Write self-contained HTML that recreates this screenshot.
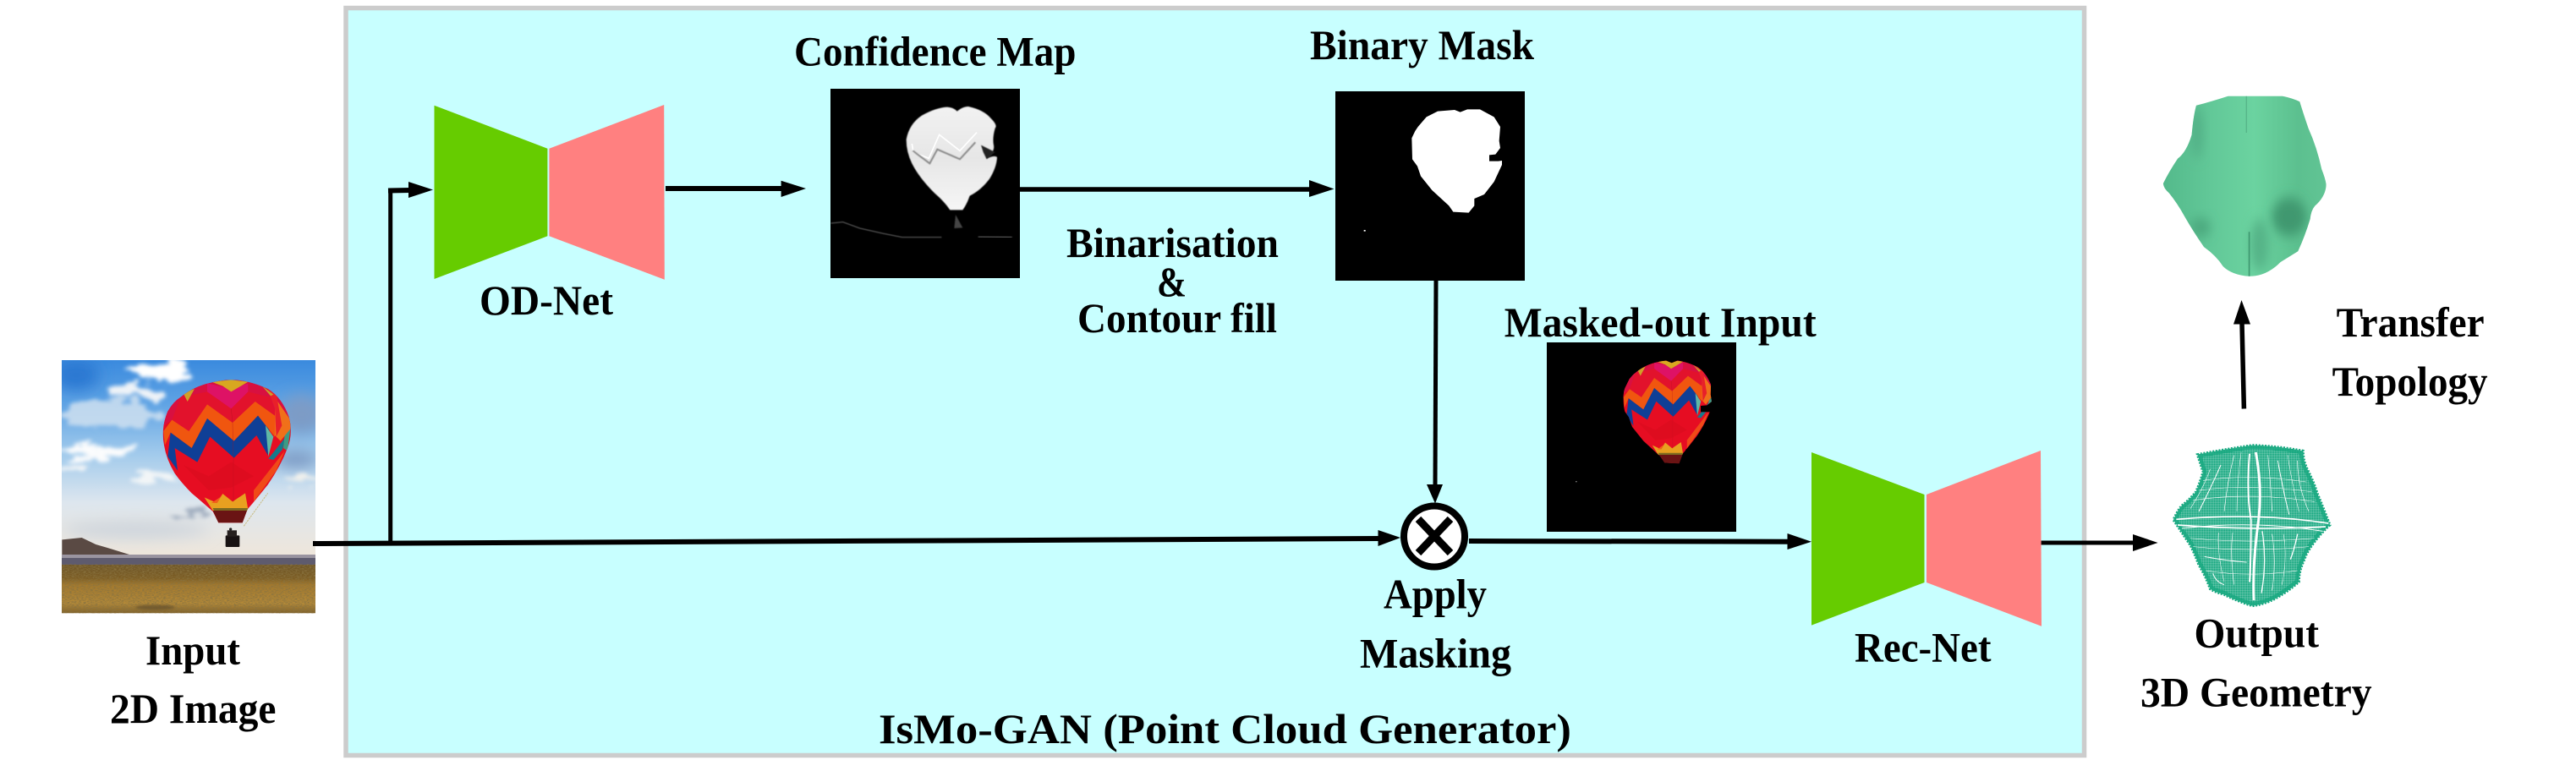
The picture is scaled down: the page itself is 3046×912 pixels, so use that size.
<!DOCTYPE html>
<html><head><meta charset="utf-8"><title>IsMo-GAN</title>
<style>html,body{margin:0;padding:0;background:#fff}svg{display:block}
text{font-family:"Liberation Serif",serif;font-weight:bold;font-size:50px;fill:#000}</style></head>
<body>
<svg width="3046" height="912" viewBox="0 0 3046 912" xmlns="http://www.w3.org/2000/svg">
<defs>
<linearGradient id="sky" x1="0" y1="0" x2="0" y2="1">
<stop offset="0" stop-color="#3a8ade"/><stop offset=".22" stop-color="#5fa3e4"/><stop offset=".48" stop-color="#a3cbec"/><stop offset=".72" stop-color="#dde6ee"/><stop offset="1" stop-color="#efe6da"/></linearGradient>
<linearGradient id="field" x1="0" y1="0" x2="0" y2="1">
<stop offset="0" stop-color="#6d5528"/><stop offset=".28" stop-color="#7c5c22"/><stop offset=".42" stop-color="#a67a2c"/><stop offset=".8" stop-color="#b58a38"/><stop offset="1" stop-color="#7e5f28"/></linearGradient>
<linearGradient id="mesh" x1="0" y1="0" x2="1" y2="0">
<stop offset="0" stop-color="#52b88a"/><stop offset=".3" stop-color="#62c898"/><stop offset=".55" stop-color="#6bd3a0"/><stop offset=".8" stop-color="#5cc08f"/><stop offset="1" stop-color="#62c596"/></linearGradient>
<linearGradient id="conf" x1="0" y1="0" x2="0" y2="1">
<stop offset="0" stop-color="#f2f2f2"/><stop offset=".5" stop-color="#e6e6e6"/><stop offset="1" stop-color="#f6f6f6"/></linearGradient>
<filter id="b8" x="-50%" y="-50%" width="200%" height="200%"><feGaussianBlur stdDeviation="8"/></filter>
<filter id="b14" x="-50%" y="-50%" width="200%" height="200%"><feGaussianBlur stdDeviation="14"/></filter>
<filter id="wisp" x="-30%" y="-30%" width="160%" height="160%"><feTurbulence type="fractalNoise" baseFrequency=".012 .03" numOctaves="3" seed="7" result="n"/><feDisplacementMap in="SourceGraphic" in2="n" scale="90" xChannelSelector="R" yChannelSelector="G"/><feGaussianBlur stdDeviation="7"/></filter>
<filter id="b26" x="-60%" y="-80%" width="220%" height="260%"><feGaussianBlur stdDeviation="26"/></filter>
<filter id="b1"><feGaussianBlur stdDeviation="1.5"/></filter>
<filter id="b4" x="-30%" y="-30%" width="160%" height="160%"><feGaussianBlur stdDeviation="4"/></filter>
<filter id="noise" x="0" y="0" width="100%" height="100%"><feTurbulence type="fractalNoise" baseFrequency=".12 .5" numOctaves="2" seed="4"/><feColorMatrix values="0 0 0 0 .25  0 0 0 0 .17  0 0 0 0 .05  0 0 0 3 -1.2"/></filter>
<clipPath id="photoClip"><rect x="39" y="18" width="900" height="898"/></clipPath>
<clipPath id="ballClip"><path d="M640,88 Q700,88 770,120 Q820,150 845,220 Q860,280 840,330 Q815,395 770,460 Q730,510 700,545 L695,555 L680,595 L595,595 L575,555 Q530,515 500,490 Q465,455 440,420 Q410,370 402,320 Q390,260 415,200 Q435,165 460,150 Q510,110 570,98 Q610,88 640,88 Z"/></clipPath>
<clipPath id="maskClip"><polygon points="268,190 290,145 320,110 360,85 420,80 440,88 465,78 510,78 560,105 580,145 578,200 582,225 565,238 543,240 543,262 575,262 588,260 588,275 560,335 525,380 490,395 485,420 470,445 415,442 400,420 340,365 300,315 288,280 270,255"/></clipPath>
<path id="cloudPath" d="M145,68 Q240,50 340,35 Q430,38 520,55 Q520,90 535,120 Q560,170 570,205 Q595,265 615,318 Q585,345 555,385 Q530,420 525,440 Q505,480 505,520 Q465,555 420,580 Q380,600 340,605 Q290,590 240,565 Q205,555 190,545 Q175,500 150,460 Q135,420 120,390 Q90,345 60,300 Q80,255 95,245 Q120,225 140,200 Q155,165 165,130 Z"/>
<clipPath id="cloudClip"><use href="#cloudPath"/></clipPath>
<clipPath id="meshClip"><path d="M478,127 Q520,118 570,105 L725,105 Q755,110 775,118 Q785,145 800,180 Q825,225 838,275 Q848,295 851,310 Q850,335 825,355 Q808,365 805,390 Q790,430 770,465 Q750,475 720,490 Q680,523 630,523 Q580,520 555,500 Q535,475 500,455 Q470,420 445,385 Q425,355 400,330 Q385,320 383,308 Q400,280 425,250 Q450,235 465,195 Q470,150 478,127 Z"/></clipPath>
<pattern id="grid" width="6" height="6" patternUnits="userSpaceOnUse"><rect width="6" height="6" fill="#12a67d"/><rect x="0" y="4.9" width="6" height="1.1" fill="#ffffff" opacity=".55"/><rect x="4.9" y="0" width="1.1" height="6" fill="#ffffff" opacity=".55"/></pattern>
<g id="balloon">
<g clip-path="url(#ballClip)">
<rect x="380" y="80" width="490" height="530" fill="#e60d22"/>
<polygon points="390,80 870,80 870,260 790,210 725,165 645,240 555,175 490,270 430,230 390,260" fill="#d81040"/>
<polygon points="460,150 555,130 640,190 700,130 780,150 800,215 725,165 645,240 555,175 490,270 430,230" fill="#e2122c"/>
<polygon points="555,100 640,120 700,100 700,130 640,190 555,130" fill="#de1265"/>
<polygon points="430,230 490,270 555,175 645,240 725,165 795,215 795,290 775,265 735,215 650,305 555,225 500,330 425,275 405,320 400,270" fill="#f0560f"/>
<polygon points="425,275 500,330 555,225 650,305 735,215 775,265 770,355 730,285 650,365 565,290 520,380 440,330 450,410 415,360" fill="#0f3f96"/>
<polygon points="762,250 790,290 772,360" fill="#5fb8a4"/>
<polygon points="772,368 832,292 822,335 790,372" fill="#157a8c"/>
<polygon points="832,262 850,262 840,340 825,330" fill="#3d9a84"/>
<polygon points="795,150 850,230 850,262 815,305 795,285" fill="#f0701a"/>
<polygon points="770,120 800,135 820,250 800,290 795,190" fill="#e8202a"/>
<polygon points="570,95 640,88 700,95 640,130 610,110" fill="#d8a820"/>
<polygon points="470,135 510,120 485,165" fill="#cfa028"/>
<polygon points="750,110 790,140 780,145" fill="#c9a02a"/>
<polygon points="545,505 590,525 610,492 645,520 690,490 697,530 700,548 575,552" fill="#e8a020"/>
<polygon points="570,525 600,505 610,492 590,525" fill="#f0601a"/>
<polygon points="575,543 700,543 695,555 580,555" fill="#7c6a20"/>
<polygon points="575,552 697,552 682,596 595,596" fill="#6a1414"/>
<polyline points="640,190 645,240 648,365 648,520" fill="none" stroke="#a81020" stroke-width="1.5" opacity=".6"/>
<polygon points="720,480 830,340 800,410 720,520" fill="#f04a18"/>
<polygon points="470,390 560,430 640,380 720,430 640,470 560,480" fill="#d40a1c" opacity=".45"/>
</g></g>
</defs>

<!-- panel -->
<rect x="409" y="9.5" width="2055.5" height="884" fill="#c8ffff" stroke="#cccccc" stroke-width="5.5"/>

<!-- photo -->
<g transform="translate(60,420) scale(.33333)" clip-path="url(#photoClip)">
<rect x="39" y="18" width="900" height="702" fill="url(#sky)"/>
<g filter="url(#b26)">
<ellipse cx="90" cy="70" rx="80" ry="55" fill="#2a78d2"/>
<ellipse cx="890" cy="210" rx="80" ry="70" fill="#7d9bc6"/>
<ellipse cx="870" cy="370" rx="80" ry="30" fill="#7a98c2"/>
<ellipse cx="300" cy="620" rx="260" ry="30" fill="#cdd4dc"/>
</g>
<g filter="url(#wisp)">
<ellipse cx="210" cy="210" rx="180" ry="50" fill="#cfe0f0" opacity=".85"/>
<ellipse cx="300" cy="130" rx="110" ry="24" fill="#eef3f8"/>
<ellipse cx="380" cy="60" rx="110" ry="32" fill="#ffffff"/>
<ellipse cx="160" cy="345" rx="130" ry="26" fill="#fbfcfd"/>
<ellipse cx="85" cy="398" rx="42" ry="9" fill="#f6f7f8"/>
<ellipse cx="380" cy="435" rx="70" ry="14" fill="#f2f5f7"/>
<ellipse cx="900" cy="440" rx="70" ry="22" fill="#f0f0ec"/>
<ellipse cx="490" cy="565" rx="70" ry="9" fill="#a2afc0"/>
</g>
<polygon points="40,655 110,648 160,672 215,688 285,710 40,712" fill="#5a4a44"/>
<rect x="39" y="708" width="900" height="12" fill="#9a94a0"/>
<rect x="39" y="720" width="900" height="24" fill="#5e5b6e"/>
<rect x="39" y="744" width="900" height="172" fill="url(#field)"/>
<rect x="39" y="744" width="900" height="172" filter="url(#noise)"/>
<ellipse cx="370" cy="895" rx="70" ry="9" fill="#5c4a2a" opacity=".6" filter="url(#b4)"/>
<use href="#balloon"/>
<line x1="685" y1="607" x2="770" y2="490" stroke="#c8bb80" stroke-width="3" stroke-dasharray="7 3"/>
<rect x="620" y="640" width="50" height="41" rx="3" fill="#171213"/>
<rect x="626" y="622" width="34" height="22" fill="#25201f"/>
<circle cx="638" cy="618" r="5" fill="#222"/>
</g>

<!-- OD-Net -->
<polygon points="513.5,124.7 647.4,175.7 647.4,279.3 513.5,330" fill="#66cc00"/>
<polygon points="649.4,175.7 785.2,124 785.8,330.7 649.4,279.3" fill="#ff8080"/>

<!-- confidence map -->
<rect x="982" y="105" width="224" height="224" fill="#000"/>
<g transform="translate(980,100) scale(.33333)">
<path d="M275,195 Q285,140 330,110 Q380,82 420,80 Q445,82 455,95 Q475,78 495,78 Q550,90 575,120 Q600,145 590,155 Q580,190 585,215 Q590,238 560,262 Q590,250 597,258 Q595,295 570,335 Q540,375 500,395 Q490,425 475,445 L430,445 Q410,415 375,385 Q320,330 295,280 Q275,240 275,195 Z" fill="url(#conf)" filter="url(#b1)"/>
<polyline points="295,210 300,240 355,262 392,178 465,235 525,170" fill="none" stroke="#ffffff" stroke-width="5"/>
<polyline points="298,235 358,280 385,230 465,265 520,205" fill="none" stroke="#8a8a8a" stroke-width="6" filter="url(#b1)"/>
<polygon points="540,215 590,240 560,265 548,240" fill="#222" filter="url(#b1)"/>
<polyline points="8,492 50,488 110,510 190,528 260,542 400,542" fill="none" stroke="#666" stroke-width="3" filter="url(#b1)"/>
<polygon points="450,462 475,508 445,510" fill="#444" filter="url(#b1)"/>
<polyline points="530,540 650,542" fill="none" stroke="#888" stroke-width="3" filter="url(#b1)"/>
</g>

<!-- binary mask -->
<rect x="1579" y="108" width="224" height="224" fill="#000"/>
<g transform="translate(1580,100) scale(.33333)">
<polygon points="268,190 280,165 290,150 320,115 360,95 420,90 440,98 465,88 510,88 560,115 582,150 578,200 582,225 565,248 543,250 543,272 575,272 588,270 588,285 560,345 525,390 490,405 490,430 470,455 415,452 400,430 340,375 300,325 288,290 270,265" fill="#fff"/>
<rect x="98" y="516" width="6" height="5" fill="#fff"/>
</g>

<!-- masked input -->
<rect x="1829" y="405" width="224" height="224" fill="#000"/>
<g transform="translate(1830,400) scale(.33333)">
<g clip-path="url(#maskClip)"><g transform="translate(268,78) scale(.703,.724) translate(-398,-88)"><use href="#balloon"/></g></g>
<rect x="99" y="507" width="5" height="4" fill="#777"/>
</g>

<!-- Rec-Net -->
<polygon points="2142,535 2275.5,585 2275.5,689 2142,739.6" fill="#66cc00"/>
<polygon points="2278,585 2413,533 2414,740.7 2278,689" fill="#ff8080"/>

<!-- connectors -->
<g fill="none" stroke="#000">
<line x1="370" y1="643" x2="1632" y2="637" stroke-width="6"/>
<line x1="461.7" y1="642" x2="461.7" y2="225" stroke-width="5"/>
<line x1="459" y1="225.5" x2="485" y2="225" stroke-width="6"/>
<line x1="787" y1="223" x2="925" y2="223" stroke-width="6"/>
<line x1="1206" y1="224" x2="1550" y2="224" stroke-width="5.5"/>
<line x1="1698" y1="332" x2="1697" y2="575" stroke-width="5"/>
<line x1="1737" y1="640" x2="2115" y2="640.7" stroke-width="6"/>
<line x1="2413.6" y1="642" x2="2524" y2="642" stroke-width="5"/>
<line x1="2653.4" y1="483.5" x2="2651" y2="382" stroke-width="5.5"/>
</g>
<g fill="#000">
<polygon points="483,215 512,224.5 483,234"/>
<polygon points="923.6,213.7 953,223 923.6,233"/>
<polygon points="1548,213 1577.5,223.5 1548,233"/>
<polygon points="1687,573 1706,573 1697,595.5"/>
<polygon points="1629.5,627 1656,636 1629.5,646"/>
<polygon points="2113.5,631 2142,640.7 2113.5,650"/>
<polygon points="2522,632 2551.6,642 2522,652"/>
<polygon points="2641,383.5 2650.5,355 2661,383.5"/>
</g>

<!-- multiply node -->
<circle cx="1696" cy="634.5" r="36" fill="#fff" stroke="#000" stroke-width="8"/>
<g stroke="#000" stroke-width="9" fill="none"><line x1="1677" y1="614" x2="1715" y2="654"/><line x1="1715" y1="614" x2="1677" y2="654"/></g>

<!-- mesh -->
<g transform="translate(2400,60) scale(.41203,.5102)">
<g clip-path="url(#meshClip)">
<rect x="370" y="95" width="500" height="440" fill="url(#mesh)"/>
<ellipse cx="745" cy="385" rx="50" ry="45" fill="#3f9870" filter="url(#b14)"/>
<ellipse cx="490" cy="410" rx="30" ry="22" fill="#4ca87e" filter="url(#b14)"/>
<ellipse cx="480" cy="190" rx="18" ry="60" fill="#52b187" filter="url(#b14)"/>
<ellipse cx="660" cy="450" rx="26" ry="60" fill="#54b387" filter="url(#b14)"/>
<line x1="622" y1="105" x2="622" y2="190" stroke="#55b287" stroke-width="3"/>
<line x1="630" y1="420" x2="630" y2="523" stroke="#3f9870" stroke-width="4"/>
</g></g>

<!-- point cloud -->
<g transform="translate(2550,515) scale(.33333)">
<use href="#cloudPath" fill="none" stroke="#12a67d" stroke-width="9" stroke-dasharray="6 5"/>
<g clip-path="url(#cloudClip)">
<rect x="50" y="25" width="580" height="590" fill="url(#grid)"/>
<use href="#cloudPath" fill="none" stroke="#12a67d" stroke-width="26" opacity=".7"/>
<g fill="none" stroke="#fff">
<path d="M70,298 Q350,272 610,312" stroke-width="5"/>
<path d="M75,318 Q340,338 600,324" stroke-width="5"/>
<path d="M90,330 Q340,300 590,340" stroke-width="3"/>
<path d="M330,65 Q318,200 335,300 Q335,450 330,520" stroke-width="6"/>
<path d="M352,60 Q375,180 362,300 Q340,450 345,585" stroke-width="9"/>
<path d="M375,340 Q392,450 372,560" stroke-width="4"/>
<path d="M228,105 Q200,170 150,270" stroke-width="3"/>
<path d="M275,70 Q250,170 240,270" stroke-width="2"/>
<path d="M300,60 Q285,170 285,270" stroke-width="1.6"/>
<path d="M430,90 Q450,200 470,280" stroke-width="3"/>
<path d="M395,70 Q405,170 410,270" stroke-width="2"/>
<path d="M465,70 Q480,170 505,270" stroke-width="1.6"/>
<path d="M500,90 Q500,180 540,270" stroke-width="2"/>
<path d="M190,120 Q170,180 120,260" stroke-width="1.6"/>
<path d="M500,350 Q490,400 475,440" stroke-width="4"/>
<path d="M170,430 Q250,445 320,450" stroke-width="3"/>
<path d="M200,490 Q210,520 240,530" stroke-width="3"/>
<path d="M270,345 Q260,420 275,530" stroke-width="2"/>
<path d="M220,345 Q215,420 240,520" stroke-width="1.6"/>
<path d="M410,350 Q425,450 410,550" stroke-width="2"/>
<path d="M450,350 Q465,430 445,530" stroke-width="1.6"/>
<path d="M130,230 Q330,200 560,235" stroke-width="1.6"/>
<path d="M150,195 Q330,170 550,200" stroke-width="1.4"/>
<path d="M165,160 Q330,135 530,165" stroke-width="1.6"/>
<path d="M120,365 Q330,385 560,365" stroke-width="1.6"/>
<path d="M130,395 Q330,415 540,395" stroke-width="1.6"/>
<path d="M175,480 Q330,505 500,480" stroke-width="1.6"/>
</g></g></g>

<!-- labels -->
<text x="172" y="786" textLength="112" lengthAdjust="spacingAndGlyphs">Input</text>
<text x="130" y="855" textLength="196.5" lengthAdjust="spacingAndGlyphs">2D Image</text>
<text x="939" y="77.7" textLength="333.5" lengthAdjust="spacingAndGlyphs">Confidence Map</text>
<text x="1549" y="70" textLength="265" lengthAdjust="spacingAndGlyphs">Binary Mask</text>
<text x="567" y="372" textLength="158" lengthAdjust="spacingAndGlyphs">OD-Net</text>
<text x="1261" y="304" textLength="251" lengthAdjust="spacingAndGlyphs">Binarisation</text>
<text x="1368" y="350" textLength="35" lengthAdjust="spacingAndGlyphs">&amp;</text>
<text x="1274" y="393" textLength="236" lengthAdjust="spacingAndGlyphs">Contour fill</text>
<text x="1778.7" y="398" textLength="369" lengthAdjust="spacingAndGlyphs">Masked-out Input</text>
<text x="1636" y="719.5" textLength="122" lengthAdjust="spacingAndGlyphs">Apply</text>
<text x="1608" y="789.6" textLength="179" lengthAdjust="spacingAndGlyphs">Masking</text>
<text x="2193" y="782.7" textLength="161.5" lengthAdjust="spacingAndGlyphs">Rec-Net</text>
<text x="1039" y="879" textLength="819" lengthAdjust="spacingAndGlyphs">IsMo-GAN (Point Cloud Generator)</text>
<text x="2762.6" y="398" textLength="175" lengthAdjust="spacingAndGlyphs">Transfer</text>
<text x="2757.6" y="468" textLength="184" lengthAdjust="spacingAndGlyphs">Topology</text>
<text x="2594.5" y="765.6" textLength="147.5" lengthAdjust="spacingAndGlyphs">Output</text>
<text x="2531" y="835.5" textLength="273.5" lengthAdjust="spacingAndGlyphs">3D Geometry</text>
</svg>
</body></html>
